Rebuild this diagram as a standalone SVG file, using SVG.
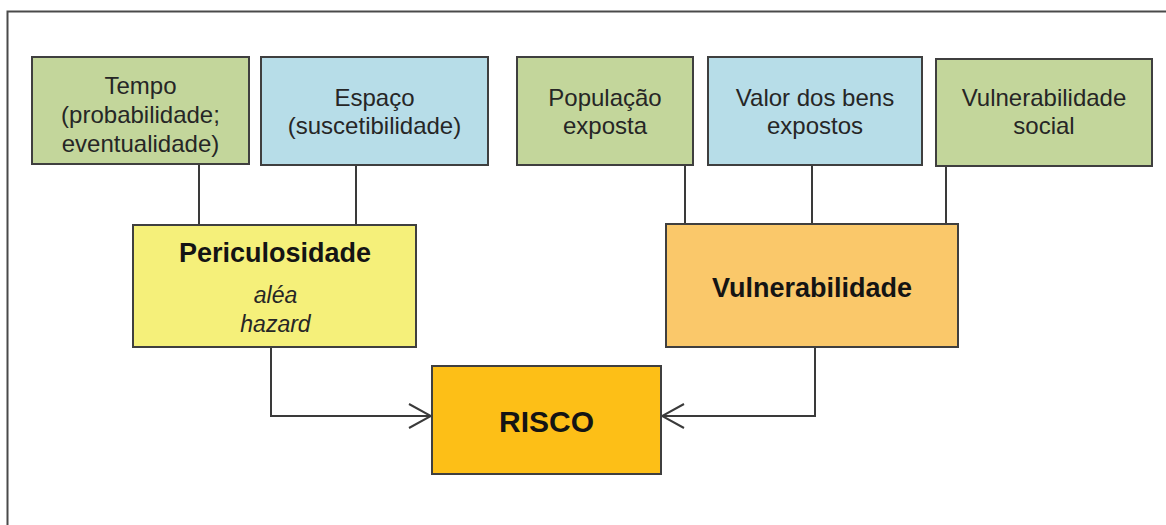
<svg xmlns="http://www.w3.org/2000/svg" width="1166" height="525" viewBox="0 0 1166 525">
  <style>
    .box { stroke: #3f3f3f; stroke-width: 2; }
    .green { fill: #c3d69b; }
    .blue { fill: #b7dde8; }
    .t { font-family: "Liberation Sans", Arial, sans-serif; font-size: 24px; fill: #262626; text-anchor: middle; }
    .b { font-family: "Liberation Sans", Arial, sans-serif; font-weight: bold; font-size: 27px; fill: #141414; text-anchor: middle; }
    .i { font-family: "Liberation Sans", Arial, sans-serif; font-style: italic; font-size: 23px; fill: #262626; text-anchor: middle; }
    .conn { fill: none; stroke: #3a3a3a; stroke-width: 2; }
  </style>
  <defs>
    <marker id="arrow" viewBox="0 0 24 26" refX="23" refY="13" markerWidth="24" markerHeight="26" markerUnits="userSpaceOnUse" orient="auto">
      <path d="M1,1 L23,13 L1,25" fill="none" stroke="#3a3a3a" stroke-width="2"/>
    </marker>
  </defs>
  <rect width="1166" height="525" fill="#ffffff"/>
  <rect x="7.5" y="11.5" width="1180" height="540" fill="none" stroke="#4a4a4a" stroke-width="2"/>

  <g id="connectors">
    <line class="conn" x1="199" y1="165" x2="199" y2="225"/>
    <line class="conn" x1="356" y1="165" x2="356" y2="225"/>
    <line class="conn" x1="685" y1="165" x2="685" y2="224"/>
    <line class="conn" x1="812" y1="165" x2="812" y2="224"/>
    <line class="conn" x1="946" y1="166" x2="946" y2="224"/>
    <path class="conn" d="M271,347 V416 H431" marker-end="url(#arrow)"/>
    <path class="conn" d="M815,347 V416 H662" marker-end="url(#arrow)"/>
  </g>

  <g id="tempo">
    <rect class="box green" x="32" y="57" width="217" height="107"/>
    <text class="t" x="140.5" y="94">Tempo</text>
    <text class="t" x="140.5" y="123">(probabilidade;</text>
    <text class="t" x="140.5" y="152">eventualidade)</text>
  </g>
  <g id="espaco">
    <rect class="box blue" x="261" y="57" width="227" height="108"/>
    <text class="t" x="374.5" y="106">Espaço</text>
    <text class="t" x="374.5" y="134">(suscetibilidade)</text>
  </g>
  <g id="populacao">
    <rect class="box green" x="517" y="57" width="176" height="108"/>
    <text class="t" x="605" y="106">População</text>
    <text class="t" x="605" y="134">exposta</text>
  </g>
  <g id="valor">
    <rect class="box blue" x="708" y="57" width="214" height="108"/>
    <text class="t" x="815" y="106">Valor dos bens</text>
    <text class="t" x="815" y="134">expostos</text>
  </g>
  <g id="vulnsocial">
    <rect class="box green" x="936" y="59" width="216" height="107"/>
    <text class="t" x="1044" y="106">Vulnerabilidade</text>
    <text class="t" x="1044" y="134">social</text>
  </g>

  <g id="periculosidade">
    <rect class="box" x="133" y="225" width="283" height="122" fill="#f5f07a"/>
    <text class="b" x="275" y="262">Periculosidade</text>
    <text class="i" x="275.5" y="303">aléa</text>
    <text class="i" x="275.5" y="332">hazard</text>
  </g>
  <g id="vulnerabilidade">
    <rect class="box" x="666" y="224" width="292" height="123" fill="#fac86a"/>
    <text class="b" x="812" y="297">Vulnerabilidade</text>
  </g>
  <g id="risco">
    <rect class="box" x="432" y="366" width="229" height="108" fill="#fdbf17"/>
    <text class="b" x="546.5" y="432" style="font-size:30px">RISCO</text>
  </g>
</svg>
